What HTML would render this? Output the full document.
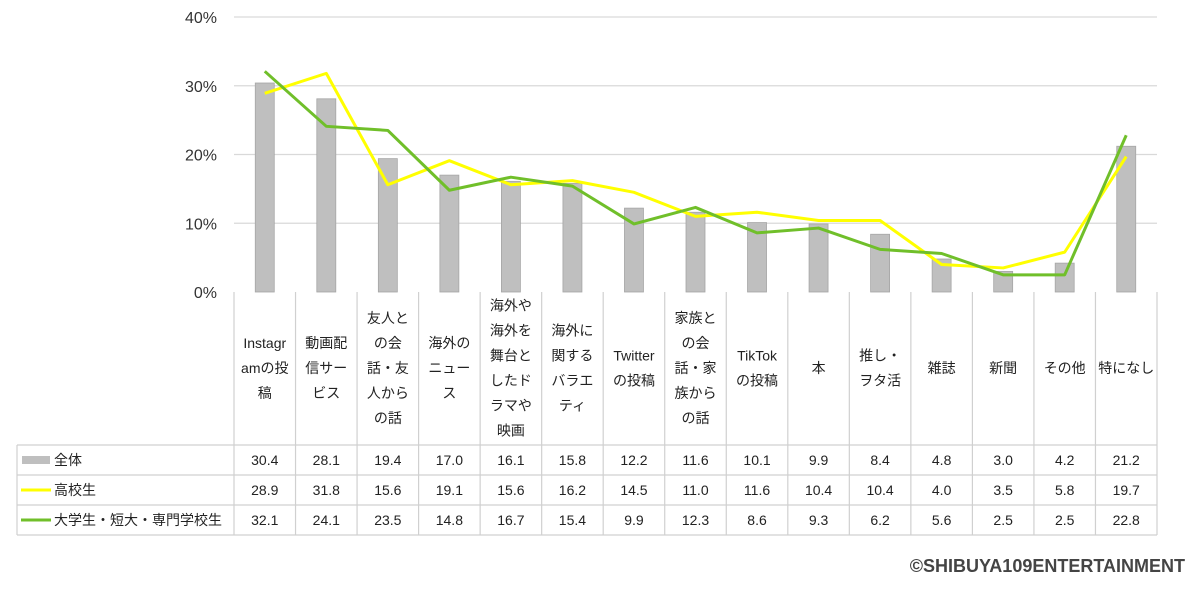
<!DOCTYPE html>
<html><head><meta charset="utf-8">
<style>
body{margin:0;background:#fff;width:1200px;height:589px;overflow:hidden;font-family:"Liberation Sans","Noto Sans CJK JP",sans-serif;}
svg text{font-family:"Liberation Sans","Noto Sans CJK JP",sans-serif;}
</style></head>
<body>
<svg id="chart" width="1200" height="589" xmlns="http://www.w3.org/2000/svg"></svg>
<script>
const categories=[["Instagr","amの投","稿"],["動画配","信サー","ビス"],["友人と","の会","話・友","人から","の話"],["海外の","ニュー","ス"],["海外や","海外を","舞台と","したド","ラマや","映画"],["海外に","関する","バラエ","ティ"],["Twitter","の投稿"],["家族と","の会","話・家","族から","の話"],["TikTok","の投稿"],["本"],["推し・","ヲタ活"],["雑誌"],["新聞"],["その他"],["特になし"]];
const seriesNames=["全体","高校生","大学生・短大・専門学校生"];
const allValues=[30.4,28.1,19.4,17.0,16.1,15.8,12.2,11.6,10.1,9.9,8.4,4.8,3.0,4.2,21.2];
const highValues=[28.9,31.8,15.6,19.1,15.6,16.2,14.5,11.0,11.6,10.4,10.4,4.0,3.5,5.8,19.7];
const univValues=[32.1,24.1,23.5,14.8,16.7,15.4,9.9,12.3,8.6,9.3,6.2,5.6,2.5,2.5,22.8];
const yTicks=[0,10,20,30,40];

const svg=document.getElementById('chart');
const NS='http://www.w3.org/2000/svg';
function mk(tag,attrs,parent){const e=document.createElementNS(NS,tag);for(const k in attrs)e.setAttribute(k,attrs[k]);(parent||svg).appendChild(e);return e;}
const X0=234,X1=1157,Y0=292,Y1=17,N=categories.length,CW=(X1-X0)/N;
const yS=v=>Y0-(v/40)*(Y0-Y1);
const xC=i=>X0+CW*(i+0.5);

yTicks.forEach(t=>{
 if(t>0){const g=mk('line',{x1:X0,x2:X1,y1:yS(t),y2:yS(t),stroke:'#d9d9d9','stroke-width':1.2});
 }
 const tx=mk('text',{x:217,y:yS(t)+6,'text-anchor':'end','font-size':16,fill:'#333'});
 tx.textContent=t+'%';
 
});
allValues.forEach((v,i)=>{
 const b=mk('rect',{x:xC(i)-9.5,y:yS(v),width:19,height:Y0-yS(v),fill:'#bfbfbf',stroke:'#a6a6a6','stroke-width':0.8});
 
});
function line(vals,color,name){
 const p=mk('polyline',{points:vals.map((v,i)=>xC(i)+','+yS(v)).join(' '),fill:'none',stroke:color,'stroke-width':3,'stroke-linejoin':'round'});
 
}
line(highValues,'#ffff00','line-high-school');
line(univValues,'#70bf2a','line-university');

// table
const gc='#d0d0d0';
const rows=[445,475,505,535];
function L(x1,y1,x2,y2){const l=mk('line',{x1,y1,x2,y2,stroke:gc,'stroke-width':1.2});}
for(let i=0;i<=N;i++)L(X0+CW*i,Y0,X0+CW*i,535);
L(17,445,17,535);
rows.forEach(y=>L(17,y,X1,y));
categories.forEach((lines,i)=>{
 const n=lines.length,lh=25,top=368-(n-1)*lh/2;
 lines.forEach((s,j)=>{
  const t=mk('text',{x:xC(i),y:top+j*lh+5,'text-anchor':'middle','font-size':14,fill:'#222'});
  t.textContent=s;
 });
});
const allS=[allValues,highValues,univValues];
allS.forEach((vals,r)=>{
 const cy=rows[r]+15;
 if(r===0){const s=mk('rect',{x:22,y:cy-4,width:28,height:8,fill:'#bfbfbf'});}
 else{const s=mk('line',{x1:21,x2:51,y1:cy,y2:cy,stroke:r===1?'#ffff00':'#70bf2a','stroke-width':3});}
 const lt=mk('text',{x:54,y:cy+5,'font-size':14,fill:'#222'});lt.textContent=seriesNames[r];
 
 vals.forEach((v,i)=>{
  const t=mk('text',{x:xC(i),y:cy+5,'text-anchor':'middle','font-size':14,fill:'#222'});
  t.textContent=v.toFixed(1);
 });
});
const c=mk('text',{x:1185,y:572,'text-anchor':'end','font-size':18,fill:'#444','font-weight':'bold'});
c.textContent='©SHIBUYA109ENTERTAINMENT';

</script>
</body></html>
